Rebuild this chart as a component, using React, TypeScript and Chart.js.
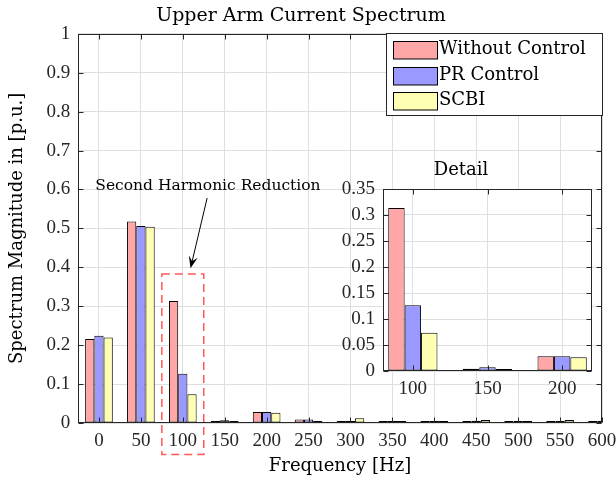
import React, { useEffect, useRef } from 'react';
import { Chart, registerables } from 'chart.js';

Chart.register(...registerables);

// ---------------- data ----------------
const FREQS = [0, 50, 100, 150, 200, 250, 300, 350, 400, 450, 500, 550, 600];
const WITHOUT_CONTROL = [0.216, 0.518, 0.3135, 0.0045, 0.0282, 0.009, 0.001, 0.002, 0.003, 0.002, 0.001, 0.001, 0.003];
const PR_CONTROL = [0.224, 0.506, 0.1263, 0.0071, 0.0282, 0.009, 0.002, 0.002, 0.002, 0.006, 0.001, 0.002, 0.002];
const SCBI = [0.22, 0.504, 0.0737, 0.0038, 0.0263, 0.004, 0.012, 0.002, 0.002, 0.008, 0.004, 0.008, 0.002];
const SERIES_LABELS = ['Without Control', 'PR Control', 'SCBI'];

const MAIN_TITLE = 'Upper Arm Current Spectrum';
const X_TITLE = 'Frequency [Hz]';
const Y_TITLE = 'Spectrum Magnitude in [p.u.]';
const INSET_TITLE = 'Detail';
const ANNOTATION_TEXT = 'Second Harmonic Reduction';

// x / y ranges (axis limits)
const MAIN_X_RANGE = [-25, 600];
const MAIN_Y_RANGE = [0, 1];
const INSET_X_RANGE = [80, 220];
const INSET_Y_RANGE = [0, 0.35];
const DETAIL_FREQS = [100, 200];

// annotation anchors in data coordinates
const ANNOT_TEXT_AT = { x: 130, y: 0.61 };
const ARROW_FROM = { x: 129, y: 0.578 };
const ARROW_TO = { x: 109.2, y: 0.3975 };
const HIGHLIGHT = { x0: 75, x1: 125, y0: -0.081, y1: 0.383 };

// ---------------- styles ----------------
const FILLS = ['#ffa6a6', '#9999ff', '#ffffb3'];
const AXIS_COLOR = '#262626';
const GRID_COLOR = '#dfdfdf';
const NUM_FONT = 'Liberation Serif';
const TXT_FONT = 'DejaVu Serif';
const TICK_LEN = 5;

const SERIES = [WITHOUT_CONTROL, PR_CONTROL, SCBI];

function fmt(v: number) {
  return String(+Number(v).toFixed(3));
}

function makeDatasets(filter: (f: number) => boolean) {
  return SERIES.map((vals, i) => ({
    label: SERIES_LABELS[i],
    data: FREQS.map((f, j) => ({ x: f, y: vals[j] })).filter((p) => filter(p.x)),
    backgroundColor: FILLS[i],
    borderColor: '#000',
    borderWidth: 1,
    borderSkipped: false,
    minBarLength: 2,
    categoryPercentage: 0.66,
    barPercentage: 1,
  }));
}

const axesBoxPlugin = {
  id: 'axesBox',
  afterDatasetsDraw(chart: any) {
    const { ctx, chartArea } = chart;
    const { x, y } = chart.scales;
    const l = Math.round(chartArea.left) + 0.5;
    const r = Math.round(chartArea.right) - 0.5;
    const t = Math.round(chartArea.top) + 0.5;
    const b = Math.round(chartArea.bottom) - 0.5;
    ctx.save();
    ctx.strokeStyle = AXIS_COLOR;
    ctx.lineWidth = 1;
    ctx.beginPath();
    x.ticks.forEach((tk: any) => {
      const px = Math.round(x.getPixelForValue(tk.value)) + 0.5;
      ctx.moveTo(px, b);
      ctx.lineTo(px, b - TICK_LEN);
      ctx.moveTo(px, t);
      ctx.lineTo(px, t + TICK_LEN);
    });
    y.ticks.forEach((tk: any) => {
      const py = Math.round(y.getPixelForValue(tk.value)) + 0.5;
      ctx.moveTo(l, py);
      ctx.lineTo(l + TICK_LEN, py);
      ctx.moveTo(r, py);
      ctx.lineTo(r - TICK_LEN, py);
    });
    ctx.stroke();
    ctx.strokeRect(l, t, r - l, b - t);
    ctx.restore();
  },
};

const whiteAreaPlugin = {
  id: 'whiteArea',
  beforeDraw(chart: any) {
    const { ctx, chartArea } = chart;
    ctx.save();
    ctx.fillStyle = '#ffffff';
    ctx.fillRect(chartArea.left, chartArea.top, chartArea.right - chartArea.left, chartArea.bottom - chartArea.top);
    ctx.restore();
  },
};

const annotationPlugin = {
  id: 'harmonicAnnotation',
  afterDatasetsDraw(chart: any) {
    const { ctx } = chart;
    const { x, y } = chart.scales;
    ctx.save();
    // dashed highlight box
    const x0 = x.getPixelForValue(HIGHLIGHT.x0);
    const x1 = x.getPixelForValue(HIGHLIGHT.x1);
    const y0 = y.getPixelForValue(HIGHLIGHT.y0);
    const y1 = y.getPixelForValue(HIGHLIGHT.y1);
    ctx.strokeStyle = 'rgba(255,70,70,0.9)';
    ctx.lineWidth = 1.5;
    ctx.setLineDash([8, 5]);
    ctx.strokeRect(x0, y1, x1 - x0, y0 - y1);
    ctx.setLineDash([]);
    // arrow
    const ax = x.getPixelForValue(ARROW_FROM.x);
    const ay = y.getPixelForValue(ARROW_FROM.y);
    const bx = x.getPixelForValue(ARROW_TO.x);
    const by = y.getPixelForValue(ARROW_TO.y);
    const ang = Math.atan2(by - ay, bx - ax);
    const hl = 12;
    const hw = 4.5;
    const ux = Math.cos(ang);
    const uy = Math.sin(ang);
    const baseX = bx - ux * hl;
    const baseY = by - uy * hl;
    ctx.strokeStyle = '#000';
    ctx.lineWidth = 1;
    ctx.beginPath();
    ctx.moveTo(ax, ay);
    ctx.lineTo(bx - ux * 6, by - uy * 6);
    ctx.stroke();
    ctx.fillStyle = '#000';
    ctx.beginPath();
    ctx.moveTo(bx, by);
    ctx.lineTo(baseX - uy * hw, baseY + ux * hw);
    ctx.lineTo(bx - ux * hl * 0.6, by - uy * hl * 0.6);
    ctx.lineTo(baseX + uy * hw, baseY - ux * hw);
    ctx.closePath();
    ctx.fill();
    // text
    ctx.font = `15.5px "${TXT_FONT}"`;
    ctx.fillStyle = '#000';
    ctx.textAlign = 'center';
    ctx.textBaseline = 'middle';
    ctx.fillText(ANNOTATION_TEXT, x.getPixelForValue(ANNOT_TEXT_AT.x), y.getPixelForValue(ANNOT_TEXT_AT.y));
    ctx.restore();
  },
};

const legendPlugin = {
  id: 'boxLegend',
  afterDraw(chart: any) {
    const { ctx, chartArea } = chart;
    const w = 216;
    const h = 82;
    const right = Math.round(chartArea.right) + 0.5;
    const top = Math.round(chartArea.top) - 0.5;
    const left = right - w;
    ctx.save();
    ctx.fillStyle = '#fff';
    ctx.fillRect(left, top, w, h);
    ctx.strokeStyle = AXIS_COLOR;
    ctx.lineWidth = 1;
    ctx.strokeRect(left, top, w, h);
    ctx.font = `18px "${TXT_FONT}"`;
    ctx.textAlign = 'left';
    ctx.textBaseline = 'middle';
    chart.data.datasets.forEach((ds: any, i: number) => {
      const cy = top + 16.5 + i * 25.6;
      const px = Math.round(left + 6) + 0.5;
      const py = Math.round(cy - 8.8) + 0.5;
      ctx.fillStyle = ds.backgroundColor;
      ctx.fillRect(px, py, 44, 17.5);
      ctx.strokeStyle = '#000';
      ctx.strokeRect(px, py, 44, 17.5);
      ctx.fillStyle = '#000';
      ctx.fillText(ds.label, left + 52.5, cy - 0.5);
    });
    ctx.restore();
  },
};

function mainConfig(): any {
  return {
    type: 'bar',
    data: { datasets: makeDatasets(() => true) },
    options: {
      responsive: false,
      animation: false,
      events: [],
      layout: { padding: { left: 0, top: 0, right: 14, bottom: 0 } },
      plugins: {
        legend: { display: false },
        tooltip: { enabled: false },
        title: {
          display: true,
          text: MAIN_TITLE,
          color: '#000',
          font: { family: TXT_FONT, size: 19, weight: 'normal', lineHeight: 1.2 },
          padding: { top: 5, bottom: 6 },
        },
      },
      scales: {
        x: {
          type: 'linear',
          min: MAIN_X_RANGE[0],
          max: MAIN_X_RANGE[1],
          offset: false,
          grid: { color: GRID_COLOR, drawTicks: false, offset: false },
          border: { display: false },
          ticks: {
            stepSize: 50,
            includeBounds: false,
            autoSkip: false,
            maxRotation: 0,
            padding: 6.4,
            color: AXIS_COLOR,
            font: { family: NUM_FONT, size: 19, lineHeight: 1.2 },
            callback: (v: number) => fmt(v),
          },
          title: {
            display: true,
            text: X_TITLE,
            color: '#000',
            font: { family: TXT_FONT, size: 18, lineHeight: 1.2 },
            padding: { top: 0, bottom: 2.7 },
          },
          afterFit: (s: any) => {
            s.height = 57;
            s.paddingLeft = 0;
            s.paddingRight = 0;
          },
        },
        y: {
          min: MAIN_Y_RANGE[0],
          max: MAIN_Y_RANGE[1],
          grid: { color: GRID_COLOR, drawTicks: false },
          border: { display: false },
          ticks: {
            stepSize: 0.1,
            padding: 7.7,
            color: AXIS_COLOR,
            font: { family: NUM_FONT, size: 19, lineHeight: 1.2 },
            callback: (v: number) => fmt(v),
          },
          title: {
            display: true,
            text: Y_TITLE,
            color: '#000',
            font: { family: TXT_FONT, size: 18, lineHeight: 1.2 },
            padding: { top: 6.3, bottom: 0 },
          },
          afterFit: (s: any) => {
            s.width = 78;
            s.paddingTop = 0;
            s.paddingBottom = 0;
          },
        },
      },
    },
    plugins: [axesBoxPlugin, annotationPlugin, legendPlugin],
  };
}

function insetConfig(): any {
  return {
    type: 'bar',
    data: { datasets: makeDatasets((f) => f >= DETAIL_FREQS[0] && f <= DETAIL_FREQS[1]) },
    options: {
      responsive: false,
      animation: false,
      events: [],
      layout: { padding: { left: 0, top: 0, right: 18, bottom: 0 } },
      plugins: {
        legend: { display: false },
        tooltip: { enabled: false },
        title: {
          display: true,
          text: INSET_TITLE,
          color: '#000',
          font: { family: TXT_FONT, size: 18, weight: 'normal', lineHeight: 1.2 },
          padding: { top: 9.7, bottom: 7.7 },
        },
      },
      scales: {
        x: {
          type: 'linear',
          min: INSET_X_RANGE[0],
          max: INSET_X_RANGE[1],
          offset: false,
          grid: { color: GRID_COLOR, drawTicks: false, offset: false },
          border: { display: false },
          ticks: {
            stepSize: 50,
            includeBounds: false,
            autoSkip: false,
            maxRotation: 0,
            padding: 6.6,
            color: AXIS_COLOR,
            font: { family: NUM_FONT, size: 19, lineHeight: 1.2 },
            callback: (v: number) => fmt(v),
          },
          afterFit: (s: any) => {
            s.height = 29;
            s.paddingLeft = 0;
            s.paddingRight = 0;
          },
        },
        y: {
          min: INSET_Y_RANGE[0],
          max: INSET_Y_RANGE[1],
          grid: { color: GRID_COLOR, drawTicks: false },
          border: { display: false },
          ticks: {
            stepSize: 0.05,
            padding: 8,
            color: AXIS_COLOR,
            font: { family: NUM_FONT, size: 19, lineHeight: 1.2 },
            callback: (v: number) => fmt(v),
          },
          afterFit: (s: any) => {
            s.width = 53;
            s.paddingTop = 0;
            s.paddingBottom = 0;
          },
        },
      },
    },
    plugins: [whiteAreaPlugin, axesBoxPlugin],
  };
}

export default function App() {
  const mainRef = useRef<HTMLCanvasElement>(null);
  const insetRef = useRef<HTMLCanvasElement>(null);

  useEffect(() => {
    const main = new Chart(mainRef.current as HTMLCanvasElement, mainConfig());
    const inset = new Chart(insetRef.current as HTMLCanvasElement, insetConfig());
    return () => {
      main.destroy();
      inset.destroy();
    };
  }, []);

  return (
    <div style={{ position: 'absolute', left: 0, top: 0, width: 616, height: 480, background: '#fff', overflow: 'hidden' }}>
      <canvas
        ref={mainRef}
        width={616}
        height={480}
        style={{ position: 'absolute', left: 0, top: 0, width: 616, height: 480 }}
      />
      <canvas
        ref={insetRef}
        width={280}
        height={250}
        style={{ position: 'absolute', left: 330, top: 150, width: 280, height: 250 }}
      />
    </div>
  );
}
